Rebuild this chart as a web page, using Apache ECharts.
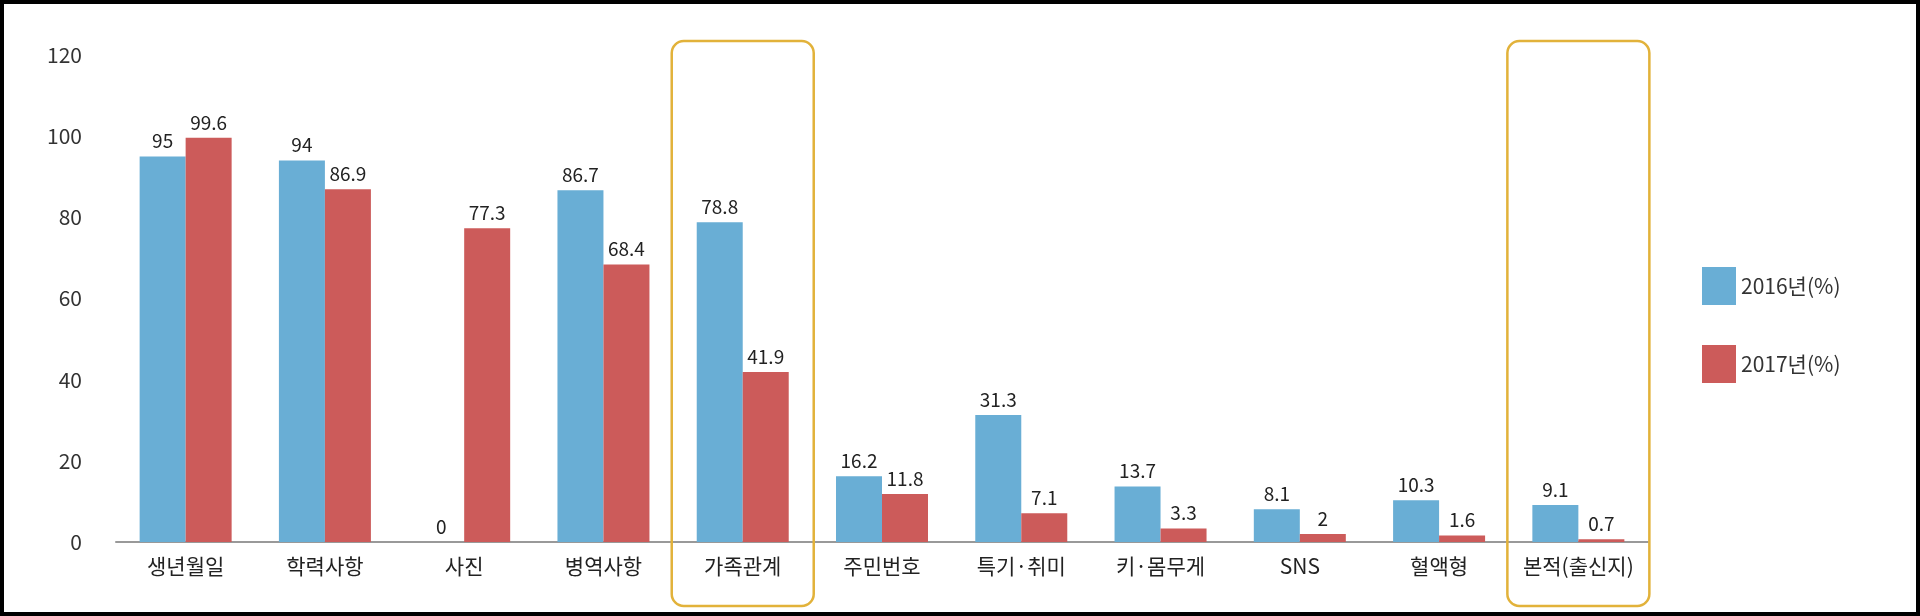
<!DOCTYPE html>
<html><head><meta charset="utf-8">
<script src="https://cdn.jsdelivr.net/npm/echarts@6/dist/echarts.min.js"></script>
<style>html,body{margin:0;padding:0;background:#000}#c{position:absolute;left:4px;top:4px;width:1912px;height:608px;background:#fff}</style>
</head><body><div id="c"></div>
<script>
const categories = ['생년월일','학력사항','사진','병역사항','가족관계','주민번호','특기·취미','키·몸무게','SNS','혈액형','본적(출신지)'];
const s2016 = [95,94,0,86.7,78.8,16.2,31.3,13.7,8.1,10.3,9.1];
const s2017 = [99.6,86.9,77.3,68.4,41.9,11.8,7.1,3.3,2,1.6,0.7];
const yTicks = [0,20,40,60,80,100,120];
const highlighted = ['가족관계','본적(출신지)'];
const chart = echarts.init(document.getElementById('c'));
const font = '"Noto Sans CJK KR", "Noto Sans", sans-serif';
const lbl = {show:true,position:'top',color:'#222',fontSize:19,fontFamily:font,distance:6};
chart.setOption({
  animation:false,
  textStyle:{fontFamily:font},
  legend:{orient:'vertical',left:1693,top:258,itemWidth:34,itemHeight:38,itemGap:40,
    textStyle:{fontSize:21,color:'#333',fontFamily:font},icon:'rect'},
  grid:{left:112,right:268,top:51,bottom:70,containLabel:false},
  xAxis:{type:'category',data:categories,axisTick:{show:false},
    axisLine:{lineStyle:{color:'#999',width:2}},
    axisLabel:{interval:0,fontSize:21,color:'#222',margin:14,fontFamily:font}},
  yAxis:{type:'value',min:0,max:120,interval:20,splitLine:{show:false},
    axisLine:{show:false},axisTick:{show:false},
    axisLabel:{fontSize:21,color:'#333',margin:34,fontFamily:font}},
  series:[
    {name:'2016년(%)',type:'bar',data:s2016,barWidth:46,barGap:'0%',itemStyle:{color:'#69aed5'},label:lbl},
    {name:'2017년(%)',type:'bar',data:s2017,barWidth:46,itemStyle:{color:'#cc5b5a'},label:lbl}
  ]
});
const g=[];
highlighted.forEach(c=>{
  const x=chart.convertToPixel({xAxisIndex:0},c);
  g.push({type:'rect',shape:{x:x-71,y:37,width:142,height:565,r:12},
    style:{fill:'none',stroke:'#e2b23a',lineWidth:2.5},z:100});
});
chart.setOption({graphic:g});
</script></body></html>
